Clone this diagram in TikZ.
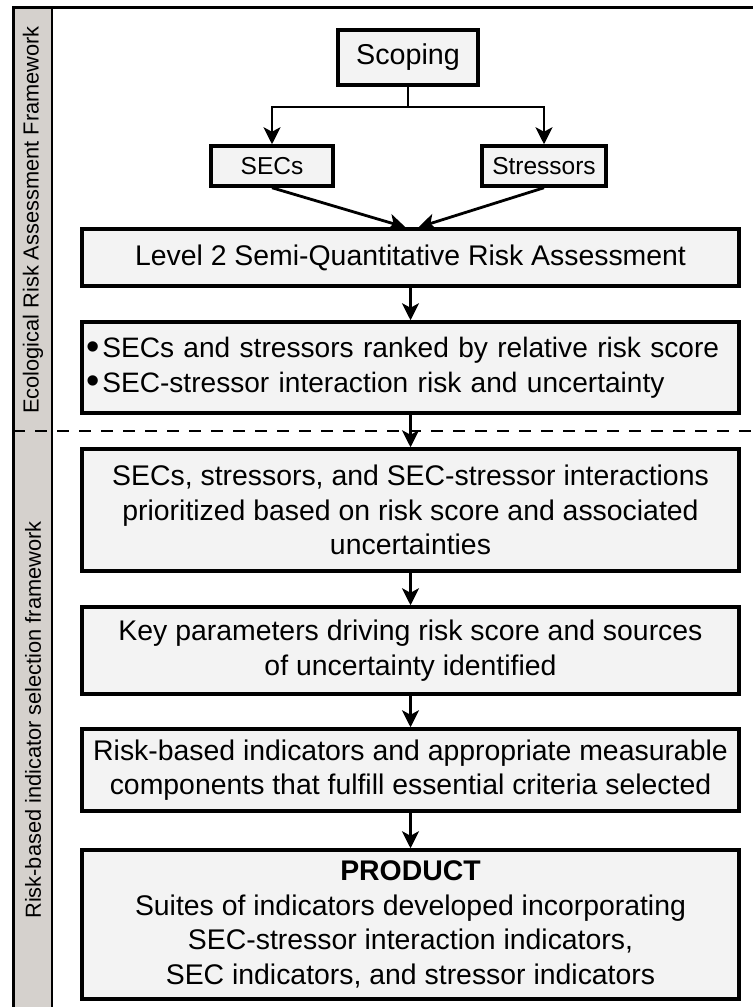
\documentclass[tikz,border=0pt]{standalone}
\usepackage{fontspec}
\setmainfont{Liberation Sans}
\usetikzlibrary{arrows.meta}
\definecolor{cajagris}{RGB}{243,243,243}
\definecolor{franja}{RGB}{213,209,205}
\newcommand{\bala}{\smash{\raisebox{-0.06em}{\scalebox{1.35}{•}}}\hspace{3pt}}

\begin{document}
\begin{tikzpicture}[x=1pt,y=-1pt,
  caja/.style={draw=black, line width=3.5pt, fill=cajagris, minimum width=657pt,
    align=center, inner sep=0pt, font=\fontsize{28.4}{34.5}\selectfont},
  cajita/.style={draw=black, line width=3.5pt, fill=cajagris, inner sep=0pt,
    minimum height=40pt, font=\fontsize{24.5}{28}\selectfont},
  flecha/.style={line width=2.8pt, -{Stealth[length=17pt,width=17pt,inset=4.5pt]}},
  rotulo/.style={rotate=90, font=\fontsize{21.8}{26}\selectfont}]
\useasboundingbox (0,0) rectangle (753,1007);

% Marco y franja lateral
\fill[franja] (13,7) rectangle (52,1007);
\draw[line width=1.5pt] (52,7) -- (52,1007);
\draw[line width=3pt] (13,1007) -- (13,7) -- (753,7);
\node[rotulo] (eraf) at (33,220) {Ecological Risk Assessment Framework};
\node[rotulo] (rbis) at (33,720) {Risk-based indicator selection framework};

% Separacion entre marcos
\draw[line width=1.5pt, dash pattern=on 12pt off 10pt] (13,431) -- (753,431);

% Scoping y sus ramas
\node[cajita, minimum width=140pt, minimum height=55pt, font=\fontsize{28.7}{34.5}\selectfont] (scoping) at (408,57.5) {Scoping};
\node[cajita, minimum width=122pt] (secs) at (272,166) {SECs};
\node[cajita, minimum width=124pt] (stressors) at (544,166) {Stressors};
\coordinate (split) at (408,107);

% Cajas principales
\node[caja, minimum height=57pt] (level2) at (410.5,257.5) {Level 2 Semi-Quantitative Risk Assessment};
\node[caja, minimum height=91pt, text width=649pt, align=left, inner xsep=4pt,
  font=\fontsize{28.1}{34.5}\selectfont] (ranked) at (410.5,367.5)
  {\bala SECs and stressors ranked by relative risk score\\ \bala SEC-stressor interaction risk and uncertainty};
\node[caja, minimum height=122pt] (prior) at (410.5,510)
  {SECs, stressors, and SEC-stressor interactions\\ prioritized based on risk score and associated\\ uncertainties};
\node[caja, minimum height=87pt] (keypar) at (410.5,650.5)
  {Key parameters driving risk score and sources\\ of uncertainty identified};
\node[caja, minimum height=82pt] (indsel) at (410.5,770)
  {Risk-based indicators and appropriate measurable\\ components that fulfill essential criteria selected};
\node[caja, minimum height=149pt] (product) at (410.5,924.5)
  {\textbf{PRODUCT}\\ Suites of indicators developed incorporating\\ SEC-stressor interaction indicators,\\ SEC indicators, and stressor indicators};

% Flechas
\draw[line width=2.8pt] (scoping.south) -- (split);
\draw[flecha] (split) -| (secs.north);
\draw[flecha] (split) -| (stressors.north);
\draw[flecha] (secs.south) -- ([xshift=-5pt]level2.north);
\draw[flecha] (stressors.south) -- ([xshift=8pt]level2.north);
\draw[flecha] (level2.south) -- (ranked.north);
\draw[flecha] (ranked.south) -- (prior.north);
\draw[flecha] (prior.south) -- (keypar.north);
\draw[flecha] (keypar.south) -- (indsel.north);
\draw[flecha] (indsel.south) -- (product.north);
\end{tikzpicture}
\end{document}
